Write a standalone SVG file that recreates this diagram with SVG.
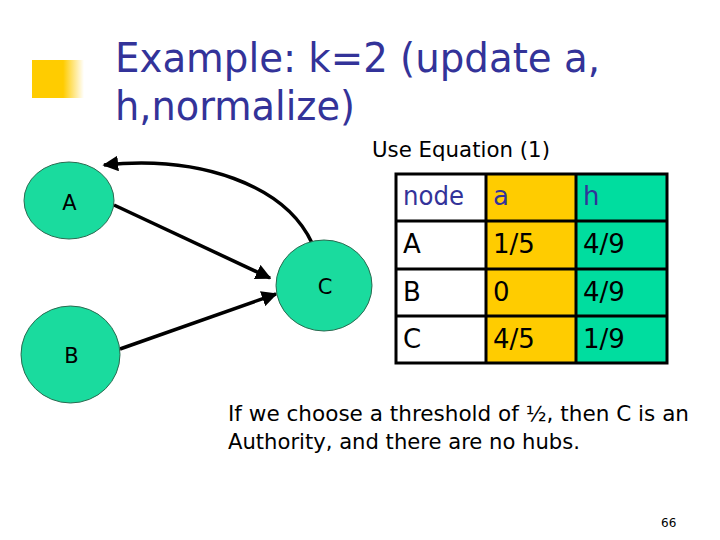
<svg xmlns="http://www.w3.org/2000/svg" width="720" height="540" viewBox="0 0 720 540">
<defs>
<linearGradient id="bul" x1="0" y1="0" x2="1" y2="0">
<stop offset="0" stop-color="#FFCC00"/>
<stop offset="0.6" stop-color="#FFCC00"/>
<stop offset="1" stop-color="#FFCC00" stop-opacity="0"/>
</linearGradient>
<marker id="ah" viewBox="0 0 10 10" refX="9" refY="5" markerWidth="4.5" markerHeight="4.5" orient="auto" markerUnits="strokeWidth">
<path d="M0,0 L10,5 L0,10 z" fill="#000"/>
</marker>
<style>
.t{font-family:"DejaVu Sans","Liberation Sans",sans-serif;}
.title{font-size:41px;fill:#333399;}
.node{fill:#1ADB9E;stroke:#2a6a50;stroke-width:1;}
.lbl{font-size:21px;fill:#000;text-anchor:middle;}
.cell{font-size:26px;fill:#000;}
.hdr{fill:#333399;}
.edge{fill:none;stroke:#000;stroke-width:3.5;marker-end:url(#ah);}
.body{font-size:22px;fill:#000;}
</style>
</defs>
<rect width="720" height="540" fill="#fff"/>
<rect x="32" y="60" width="52" height="38" fill="url(#bul)"/>
<text class="t title" x="115" y="72" textLength="485" lengthAdjust="spacingAndGlyphs">Example: k=2 (update a,</text>
<text class="t title" x="115" y="120" textLength="240" lengthAdjust="spacingAndGlyphs">h,normalize)</text>
<text class="t body" x="372" y="157" font-size="20" textLength="178" lengthAdjust="spacingAndGlyphs">Use Equation (1)</text>
<g id="edges">
<path class="edge" d="M114,205 L270,278"/>
<path class="edge" d="M120,349 L276,294"/>
<path class="edge" d="M312,243 C285,185 200,155 104,165"/>
</g>
<g id="A"><ellipse class="node" cx="69" cy="200.5" rx="45" ry="38.5"/><text class="t lbl" x="69.5" y="210">A</text></g>
<g id="B"><ellipse class="node" cx="70.5" cy="354.5" rx="49.5" ry="48.5"/><text class="t lbl" x="71.5" y="363">B</text></g>
<g id="C"><ellipse class="node" cx="324" cy="285.5" rx="48" ry="45.5"/><text class="t lbl" x="325" y="294">C</text></g>
<g id="table">
<rect x="396" y="174" width="90" height="189" fill="#fff"/>
<rect x="486" y="174" width="90" height="189" fill="#FFCC00"/>
<rect x="576" y="174" width="91" height="189" fill="#00DD9F"/>
<g stroke="#000" stroke-width="3" fill="none">
<rect x="396" y="174" width="271" height="189"/>
<line x1="486" y1="174" x2="486" y2="363"/>
<line x1="576" y1="174" x2="576" y2="363"/>
<line x1="396" y1="221" x2="667" y2="221"/>
<line x1="396" y1="269" x2="667" y2="269"/>
<line x1="396" y1="316" x2="667" y2="316"/>
</g>
<text class="t cell hdr" x="403" y="205" textLength="61" lengthAdjust="spacingAndGlyphs">node</text>
<text class="t cell hdr" x="493" y="205">a</text>
<text class="t cell hdr" x="583" y="205">h</text>
<text class="t cell" x="403" y="253">A</text>
<text class="t cell" x="493" y="253">1/5</text>
<text class="t cell" x="583" y="253">4/9</text>
<text class="t cell" x="403" y="301">B</text>
<text class="t cell" x="493" y="301">0</text>
<text class="t cell" x="583" y="301">4/9</text>
<text class="t cell" x="403" y="348">C</text>
<text class="t cell" x="493" y="348">4/5</text>
<text class="t cell" x="583" y="348">1/9</text>
</g>
<text class="t body" x="228" y="421" textLength="461" lengthAdjust="spacingAndGlyphs">If we choose a threshold of ½, then C is an</text>
<text class="t body" x="228" y="449" textLength="352" lengthAdjust="spacingAndGlyphs">Authority, and there are no hubs.</text>
<text class="t" x="661" y="527" font-size="12" fill="#000">66</text>
</svg>
